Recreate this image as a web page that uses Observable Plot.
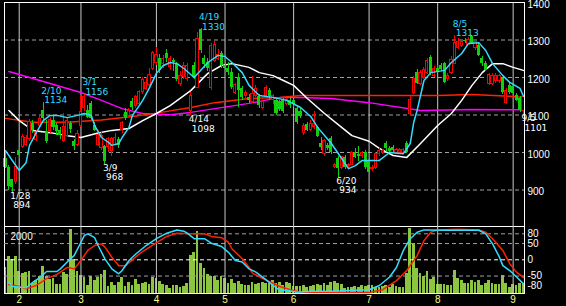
<!DOCTYPE html>
<html><head><meta charset="utf-8">
<script src="https://cdn.jsdelivr.net/npm/d3@7"></script>
<script src="https://cdn.jsdelivr.net/npm/@observablehq/plot@0.6"></script>
<style>
html,body{margin:0;padding:0;background:#000;}
#chart{position:relative;width:566px;height:306px;background:#000;overflow:hidden;}
#chart svg{position:absolute;left:0;}
</style></head><body><div id="chart"></div>
<script>
// ---- daily candles (index 0 = first bar) ----
const openP = [983,961,927,921,1005,1014,1021,1036,1078,1034,
 1072,1112,1054,1057,1085,1072,1060,1032,1045,1078,
 1030,1020,1072,1119,1112,1130,1072,1021,1011,1016,
 1016,1005,1021,1035,1060,1108,1098,1137,1123,1130,
 1161,1170,1179,1223,1238,1252,1235,1265,1228,1245,
 1236,1183,1201,1197,1112,1232,1172,1327,1250,1240,
 1171,1245,1250,1264,1232,1225,1213,1160,1200,1171,
 1150,1147,1135,1152,1150,1120,1152,1165,1140,1139,
 1135,1139,1130,1140,1139,1117,1110,1051,1075,1061,
 1068,1067,1024,995,1020,1037,962,984,960,987,
 963,968,1001,995,990,1001,979,955,960,997,
 1000,1024,1010,1013,998,998,1000,1024,1104,1160,
 1213,1184,1200,1213,1253,1205,1225,1232,1237,1195,
 1213,1237,1280,1285,1300,1288,1310,1278,1285,1251,
 1237,1184,1184,1190,1190,1197,1133,1179,1175,1152,
 1144,1112];
const highP = [1005,965,929,986,1013,1049,1045,1088,1085,1058,
 1099,1134,1085,1093,1095,1078,1068,1105,1090,1082,
 1035,1060,1152,1156,1125,1136,1080,1060,1055,1020,
 1040,1040,1050,1040,1082,1117,1118,1145,1152,1165,
 1200,1200,1225,1270,1280,1262,1260,1275,1255,1250,
 1240,1215,1240,1238,1160,1240,1320,1330,1260,1250,
 1290,1295,1275,1270,1245,1240,1225,1185,1210,1175,
 1165,1155,1203,1178,1155,1140,1178,1170,1155,1145,
 1140,1145,1145,1148,1142,1125,1118,1078,1080,1085,
 1110,1070,1040,1035,1025,1042,970,990,990,992,
 970,1002,1010,1015,1002,1005,985,965,1000,1010,
 1008,1030,1015,1018,1012,1012,1012,1030,1150,1202,
 1221,1220,1228,1250,1258,1230,1232,1238,1240,1210,
 1255,1313,1305,1300,1305,1308,1312,1300,1290,1255,
 1242,1212,1210,1210,1208,1200,1170,1183,1180,1158,
 1150,1150];
const lowP = [957,900,894,914,985,1010,1016,1030,1050,1030,
 1068,1085,1025,1050,1060,1045,1035,1028,1040,1050,
 1005,1015,1068,1110,1090,1085,1055,1015,1005,968,
 1000,990,1018,1012,1050,1085,1093,1112,1118,1125,
 1155,1165,1175,1218,1232,1210,1225,1240,1220,1215,
 1190,1175,1195,1190,1098,1195,1170,1265,1225,1215,
 1165,1240,1245,1225,1218,1205,1168,1155,1120,1140,
 1145,1130,1130,1148,1118,1115,1145,1140,1128,1100,
 1110,1105,1125,1118,1120,1075,1090,1045,1055,1055,
 1062,1040,1005,990,1005,995,958,934,955,955,
 960,965,985,975,985,955,945,950,955,990,
 995,1000,998,1000,995,995,995,998,1100,1155,
 1181,1178,1195,1208,1205,1200,1210,1215,1183,1190,
 1208,1234,1275,1280,1290,1285,1288,1272,1255,1230,
 1215,1180,1178,1185,1185,1155,1128,1155,1150,1135,
 1108,1101];
const closeP = [961,909,906,961,992,1041,1039,1081,1059,1051,
 1090,1090,1030,1087,1068,1055,1045,1067,1085,1062,
 1015,1050,1108,1149,1094,1090,1059,1048,1045,975,
 1036,1035,1039,1019,1078,1090,1110,1119,1147,1161,
 1194,1185,1208,1266,1259,1219,1250,1250,1250,1240,
 1194,1205,1232,1232,1152,1201,1303,1272,1235,1225,
 1285,1288,1260,1232,1224,1213,1173,1179,1165,1147,
 1160,1140,1155,1170,1125,1135,1173,1150,1150,1105,
 1115,1110,1139,1125,1128,1080,1095,1072,1060,1077,
 1077,1043,1013,1030,1012,1000,966,957,987,960,
 967,998,987,990,998,961,948,960,997,1005,
 1003,1011,1003,1005,1008,1008,1008,1000,1139,1197,
 1184,1213,1221,1245,1211,1224,1215,1222,1187,1205,
 1248,1291,1296,1296,1296,1300,1291,1296,1259,1237,
 1219,1208,1205,1205,1205,1160,1165,1160,1158,1139,
 1112,1147];
const volume = [864,1215,1106,1215,733,645,700,733,318,427,
 558,887,558,449,482,296,296,700,624,2112,
 1106,733,591,514,263,558,427,514,640,755,
 230,372,263,372,536,230,372,263,449,296,
 318,372,296,514,482,405,296,252,153,263,
 263,186,230,340,1248,1357,2046,974,810,624,
 558,558,427,558,482,318,471,318,394,296,
 263,263,372,296,340,372,318,340,427,318,
 372,263,372,340,230,230,230,263,186,230,
 263,296,263,318,252,372,405,340,296,153,
 208,186,230,186,263,230,263,263,208,186,
 230,263,186,296,230,186,186,668,2144,1632,
 810,668,558,733,449,514,296,296,296,263,
 263,755,482,427,318,318,427,372,427,263,
 340,427,318,296,296,591,340,186,296,263,
 318,296];

// ---- moving averages (bar index, price) ----
const maShortIdx = [0,4,6,7,9,11,13,15,18,21,23,25,26,28,30,31,33,34,36,37,39,40,42,44,46,48,50,52,55,59,62,64,66,69,71,74,78,82,86,89,91,95,98,100,102,104,106,109,112,116,118,119,120,122,124,128,130,133,135,138,140,142,145,147,150,151];
const maShortVal = [1005,952,973,1019,1053,1085,1099,1099,1093,1099,1104,1099,1072,1040,1027,1019,1024,1040,1067,1099,1125,1139,1173,1211,1232,1240,1237,1224,1200,1240,1259,1256,1240,1213,1179,1152,1147,1139,1120,1096,1067,1024,984,957,965,979,979,979,1000,997,1024,1080,1112,1192,1213,1219,1240,1264,1291,1293,1272,1237,1205,1187,1171,1150];
const maMidIdx = [1,4,8,13,18,22,27,31,36,40,44,48,54,59,63,66,71,74,78,81,84,88,93,98,101,106,109,113,117,121,126,130,133,136,139,142,145,148,151];
const maMidVal = [1112,1085,1059,1053,1045,1040,1052,1059,1064,1085,1104,1125,1165,1211,1232,1237,1227,1213,1205,1192,1179,1144,1104,1067,1045,1030,1011,992,987,1024,1072,1104,1139,1179,1213,1237,1237,1227,1219];
const maLongIdx = [0,8,18,28,37,44,54,61,71,80,86,106,126,136,147,151];
const maLongVal = [1091,1081,1081,1087,1096,1105,1120,1133,1144,1147,1152,1152,1152,1155,1150,1147];
const maXLongIdx = [1,7,13,22,28,34,40,48,54,61,71,80,86,95,100,106,121,136,151];
const maXLongVal = [1216,1200,1184,1160,1139,1117,1104,1101,1107,1117,1131,1147,1147,1144,1139,1133,1112,1115,1114];

// ---- oscillator (bar index, value) ----
const oscFastIdx = [1,2,6,8,10,12,15,16,18,20,22,23,24,26,27,29,31,33,34,36,38,41,44,47,50,52,53,55,58,60,63,65,67,69,71,73,76,78,80,82,85,89,95,106,109,112,114,116,118,120,122,129,138,140,142,144,145,147,149,151];
const oscFastVal = [-69,-82,-86,-69,-55,-36,-36,-28,-7,13,54,75,80,68,44,3,-28,-43,-33,-2,18,44,65,82,92,88,82,65,65,51,41,23,-2,-7,-28,-38,-62,-79,-94,-94,-100,-97,-97,-92,-79,-53,-23,29,65,85,92,91,91,80,49,8,-18,-33,-53,-74];
const oscSlowIdx = [1,4,6,9,12,15,18,20,22,24,26,28,29,31,33,35,37,39,42,45,47,50,54,58,60,63,65,66,69,71,72,75,78,80,83,86,106,110,114,117,120,122,124,126,132,138,140,142,145,147,149,151];
const oscSlowVal = [-76,-82,-89,-79,-58,-45,-23,-28,-2,29,44,49,39,8,-18,-18,0,18,39,59,72,82,80,80,72,68,54,34,3,-23,-41,-58,-72,-82,-92,-100,-101,-92,-64,-33,13,59,85,92,94,92,85,65,29,-12,-38,-55];

// ---- labels ----
const monthStart = [4,22,44,64,84,106,126,148];
const monthLabels = ["2","3","4","5","6","7","8","9"];
const priceGrid = [900,1000,1100,1200,1300];
const priceLabels = [900,1000,1100,1200,1300,1400];
const oscGrid = [80,50,-50];
const oscLabels = [80,50,0,-50,-80];
const volLabel = ["2000"];
const annIdx = [2,11,23,29,54,57,97,131,151];
const annDate = ["1/28","2/10","3/1","3/9","4/14","4/19","6/20","8/5","9/5"];
const annPrice = [894,1134,1156,968,1098,1330,934,1313,1101];
const annKind = ["low","high","high","low","low","high","low","high","low"];

// ---- build ----
const candles = closeP.map((c, i) => ({i, o: openP[i], h: highP[i], l: lowP[i], c, v: volume[i]}));
const ups = candles.filter(d => d.c >= d.o);
const downs = candles.filter(d => d.c < d.o);
const pts = (I, V) => I.map((i, k) => ({i, v: V[k]}));
const ann = annIdx.map((i, k) => ({i, date: annDate[k], p: annPrice[k], kind: annKind[k]}));
const hiAnn = ann.filter(d => d.kind === "high");
const loAnn = ann.filter(d => d.kind === "low");

const UP = "#ff0000", DOWN = "#10d010", VOL = "#8cc63e", CYAN = "#33ddff",
      REDMA = "#ff2200", MAG = "#ff00ff", GRID = "#a0a0a0", MONTH = "#c8c8c8";
const XD = [-0.29, 151.31];
const baseStyle = {background: "transparent", color: "white", fontFamily: "'Liberation Sans', Arial, sans-serif", fontSize: "10px", overflow: "visible"};
const annText = {fontSize: 9, fontFamily: "'DejaVu Sans', sans-serif", textAnchor: "start"};

const main = Plot.plot({
  width: 566, height: 228, marginTop: 2, marginBottom: 2, marginLeft: 4, marginRight: 42,
  style: baseStyle,
  x: {domain: XD, axis: null},
  y: {domain: [802.7, 1400], axis: null},
  marks: [
    Plot.ruleY(priceGrid, {stroke: GRID, strokeDasharray: "4,3"}),
    Plot.ruleX(monthStart, {stroke: MONTH}),
    Plot.line(pts(maXLongIdx, maXLongVal), {x: "i", y: "v", stroke: MAG}),
    Plot.line(pts(maLongIdx, maLongVal), {x: "i", y: "v", stroke: REDMA}),
    Plot.line(pts(maMidIdx, maMidVal), {x: "i", y: "v", stroke: "white"}),
    Plot.ruleX(ups, {x: "i", y1: "l", y2: "h", stroke: UP, shapeRendering: "crispEdges"}),
    Plot.ruleX(downs, {x: "i", y1: "l", y2: "h", stroke: DOWN, shapeRendering: "crispEdges"}),
    Plot.rect(downs, {x1: d => d.i - 0.45, x2: d => d.i + 0.45, y1: "o", y2: "c", fill: DOWN, shapeRendering: "crispEdges"}),
    Plot.rect(ups, {x1: d => d.i - 0.32, x2: d => d.i + 0.32, y1: "o", y2: "c", fill: "black", stroke: UP, shapeRendering: "crispEdges"}),
    Plot.line(pts(maShortIdx, maShortVal), {x: "i", y: "v", stroke: CYAN}),
    Plot.axisY({anchor: "right", label: null, ticks: priceLabels, tickSize: 0, tickPadding: 3, dy: 2, fill: "white", tickFormat: d => String(d)}),
    Plot.text(hiAnn, {...annText, x: "i", y: "p", text: "date", fill: CYAN, dx: -2, dy: -11.5}),
    Plot.text(hiAnn, {...annText, x: "i", y: "p", text: d => String(d.p), fill: CYAN, dx: 1, dy: -2}),
    Plot.text(loAnn, {...annText, x: "i", y: "p", text: "date", fill: "white", dx: -2, dy: 3.5}),
    Plot.text(loAnn, {...annText, x: "i", y: "p", text: d => String(d.p), fill: "white", dx: 1, dy: 13}),
    Plot.frame({stroke: "white"})
  ]
});

const vol = Plot.plot({
  width: 566, height: 82, marginTop: 2, marginBottom: 13, marginLeft: 4, marginRight: 42,
  style: baseStyle,
  x: {domain: XD, axis: null},
  y: {domain: [0, 2200], axis: null},
  marks: [
    Plot.rect(candles, {x1: d => d.i - 0.4, x2: d => d.i + 0.4, y1: 0, y2: "v", fill: VOL, shapeRendering: "crispEdges"}),
    Plot.text(volLabel, {frameAnchor: "top-left", dx: 6, dy: 6, fill: "white"}),
    Plot.axisX({ticks: monthStart, label: null, tickSize: 0, tickPadding: 2, fill: "#ffff80", tickFormat: d => monthLabels[monthStart.indexOf(d)]}),
    Plot.frame({stroke: "white"})
  ]
});

const osc = Plot.plot({
  width: 566, height: 82, marginTop: 2, marginBottom: 13, marginLeft: 4, marginRight: 42,
  style: baseStyle,
  x: {domain: XD, axis: null},
  y: {domain: [-103.7, 102.5], axis: null},
  marks: [
    Plot.ruleY(oscGrid, {stroke: GRID, strokeDasharray: "4,3"}),
    Plot.ruleY([0], {stroke: "white", strokeDasharray: "4,3"}),
    Plot.ruleX(monthStart, {stroke: MONTH}),
    Plot.line(pts(oscSlowIdx, oscSlowVal), {x: "i", y: "v", stroke: REDMA}),
    Plot.line(pts(oscFastIdx, oscFastVal), {x: "i", y: "v", stroke: CYAN}),
    Plot.axisY({anchor: "right", label: null, ticks: oscLabels, tickSize: 0, tickPadding: 3, fill: "white", tickFormat: d => String(d)})
  ]
});

const root = document.getElementById("chart");
main.style.top = "0px";
vol.style.top = "224px";
osc.style.top = "224px";
root.append(main, vol, osc);
</script>
</body></html>
